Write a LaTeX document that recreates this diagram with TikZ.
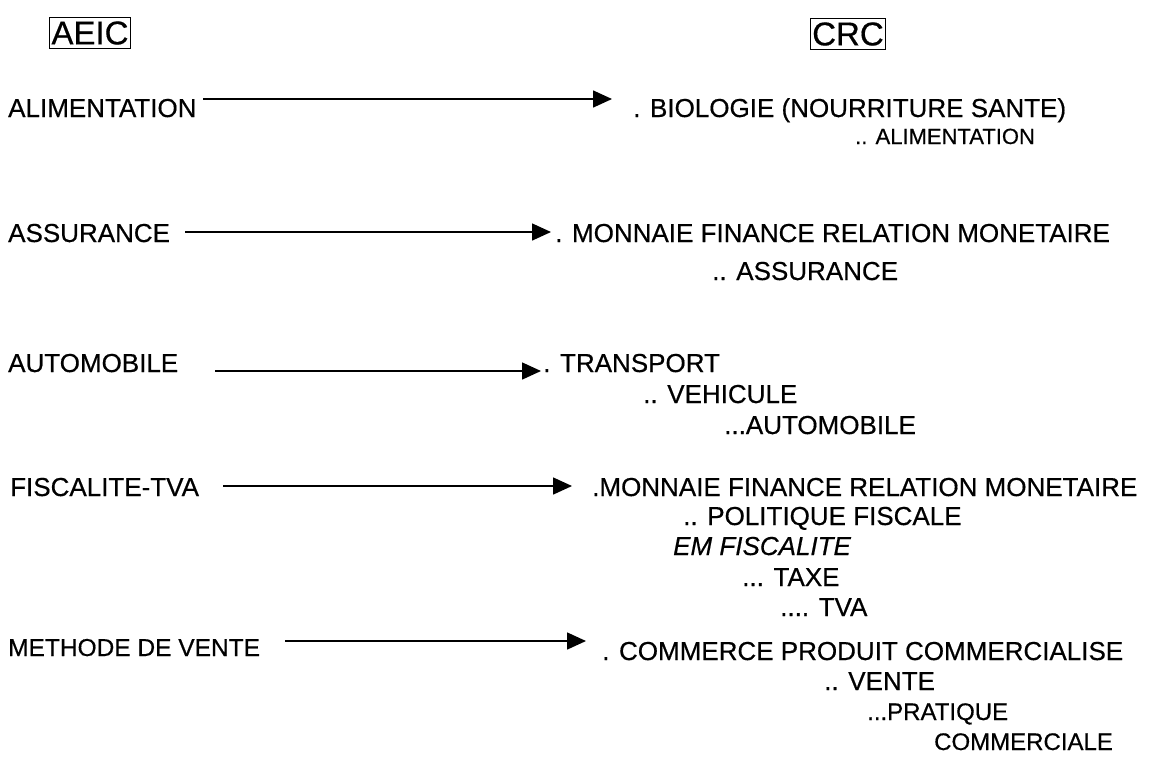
\documentclass[tikz,border=0pt]{standalone}
\usepackage{fontspec}
\setmainfont{Liberation Sans}[FakeBold=0.5]
\usetikzlibrary{arrows.meta}
\tikzset{
  lbl/.style={anchor=base west, inner sep=0pt, font=\fontsize{26}{30}\selectfont},
  sub/.style={anchor=base west, inner sep=0pt, font=\fontsize{26}{30}\selectfont},
  tiny/.style={anchor=base west, inner sep=0pt, font=\fontsize{22}{26}\selectfont},
  small/.style={anchor=base west, inner sep=0pt, font=\fontsize{24}{28}\selectfont},
  hdr/.style={draw, line width=1pt, inner xsep=2pt, inner ysep=4pt, font=\fontsize{33}{36}\selectfont},
  conn/.style={line width=1.6pt, -{Triangle[length=19pt,width=17pt]}}
}
\begin{document}
\begin{tikzpicture}[x=1pt,y=-1pt]
\useasboundingbox (0,0) rectangle (1154,764);
% headers
\node[hdr] (aeic) at (90,33) {AEIC};
\node[hdr] (crc) at (848,34) {CRC};
% row 1
\node[lbl] (l1) at (8,117) {ALIMENTATION};
\node[lbl] (r1) at (633,117) {. BIOLOGIE (NOURRITURE SANTE)};
\node[tiny] (r1a) at (855,144) {.. ALIMENTATION};
\coordinate (s1) at (203,99);
\coordinate (e1) at (612,99);
\draw[conn] (s1) -- (e1);
% row 2
\node[lbl] (l2) at (8,242) {ASSURANCE};
\node[lbl] (r2) at (555,242) {. MONNAIE FINANCE RELATION MONETAIRE};
\node[sub] (r2a) at (712,280) {.. ASSURANCE};
\coordinate (s2) at (185,232);
\coordinate (e2) at (551,232);
\draw[conn] (s2) -- (e2);
% row 3
\node[lbl] (l3) at (8,372) {AUTOMOBILE};
\node[lbl] (r3) at (543,372) {. TRANSPORT};
\node[sub] (r3a) at (643,403) {.. VEHICULE};
\node[sub] (r3b) at (724,434) {...AUTOMOBILE};
\coordinate (s3) at (215,371);
\coordinate (e3) at (541,371);
\draw[conn] (s3) -- (e3);
% row 4
\node[lbl] (l4) at (10,496) {FISCALITE-TVA};
\node[lbl] (r4) at (592,496) {.MONNAIE FINANCE RELATION MONETAIRE};
\node[sub] (r4a) at (683,525) {.. POLITIQUE FISCALE};
\node[sub, font=\fontsize{26}{30}\selectfont\itshape] (r4b) at (673,555) {EM FISCALITE};
\node[sub] (r4c) at (742,586) {... TAXE};
\node[sub] (r4d) at (780,616) {.... TVA};
\coordinate (s4) at (223,486);
\coordinate (e4) at (572,486);
\draw[conn] (s4) -- (e4);
% row 5
\node[lbl, font=\fontsize{24.5}{29}\selectfont] (l5) at (8,656) {METHODE DE VENTE};
\node[lbl] (r5) at (602,660) {. COMMERCE PRODUIT COMMERCIALISE};
\node[sub] (r5a) at (824,690) {.. VENTE};
\node[small] (r5b) at (867,720) {...PRATIQUE};
\node[small] (r5c) at (934,750) {COMMERCIALE};
\coordinate (s5) at (285,641);
\coordinate (e5) at (586,641);
\draw[conn] (s5) -- (e5);
\end{tikzpicture}
\end{document}
